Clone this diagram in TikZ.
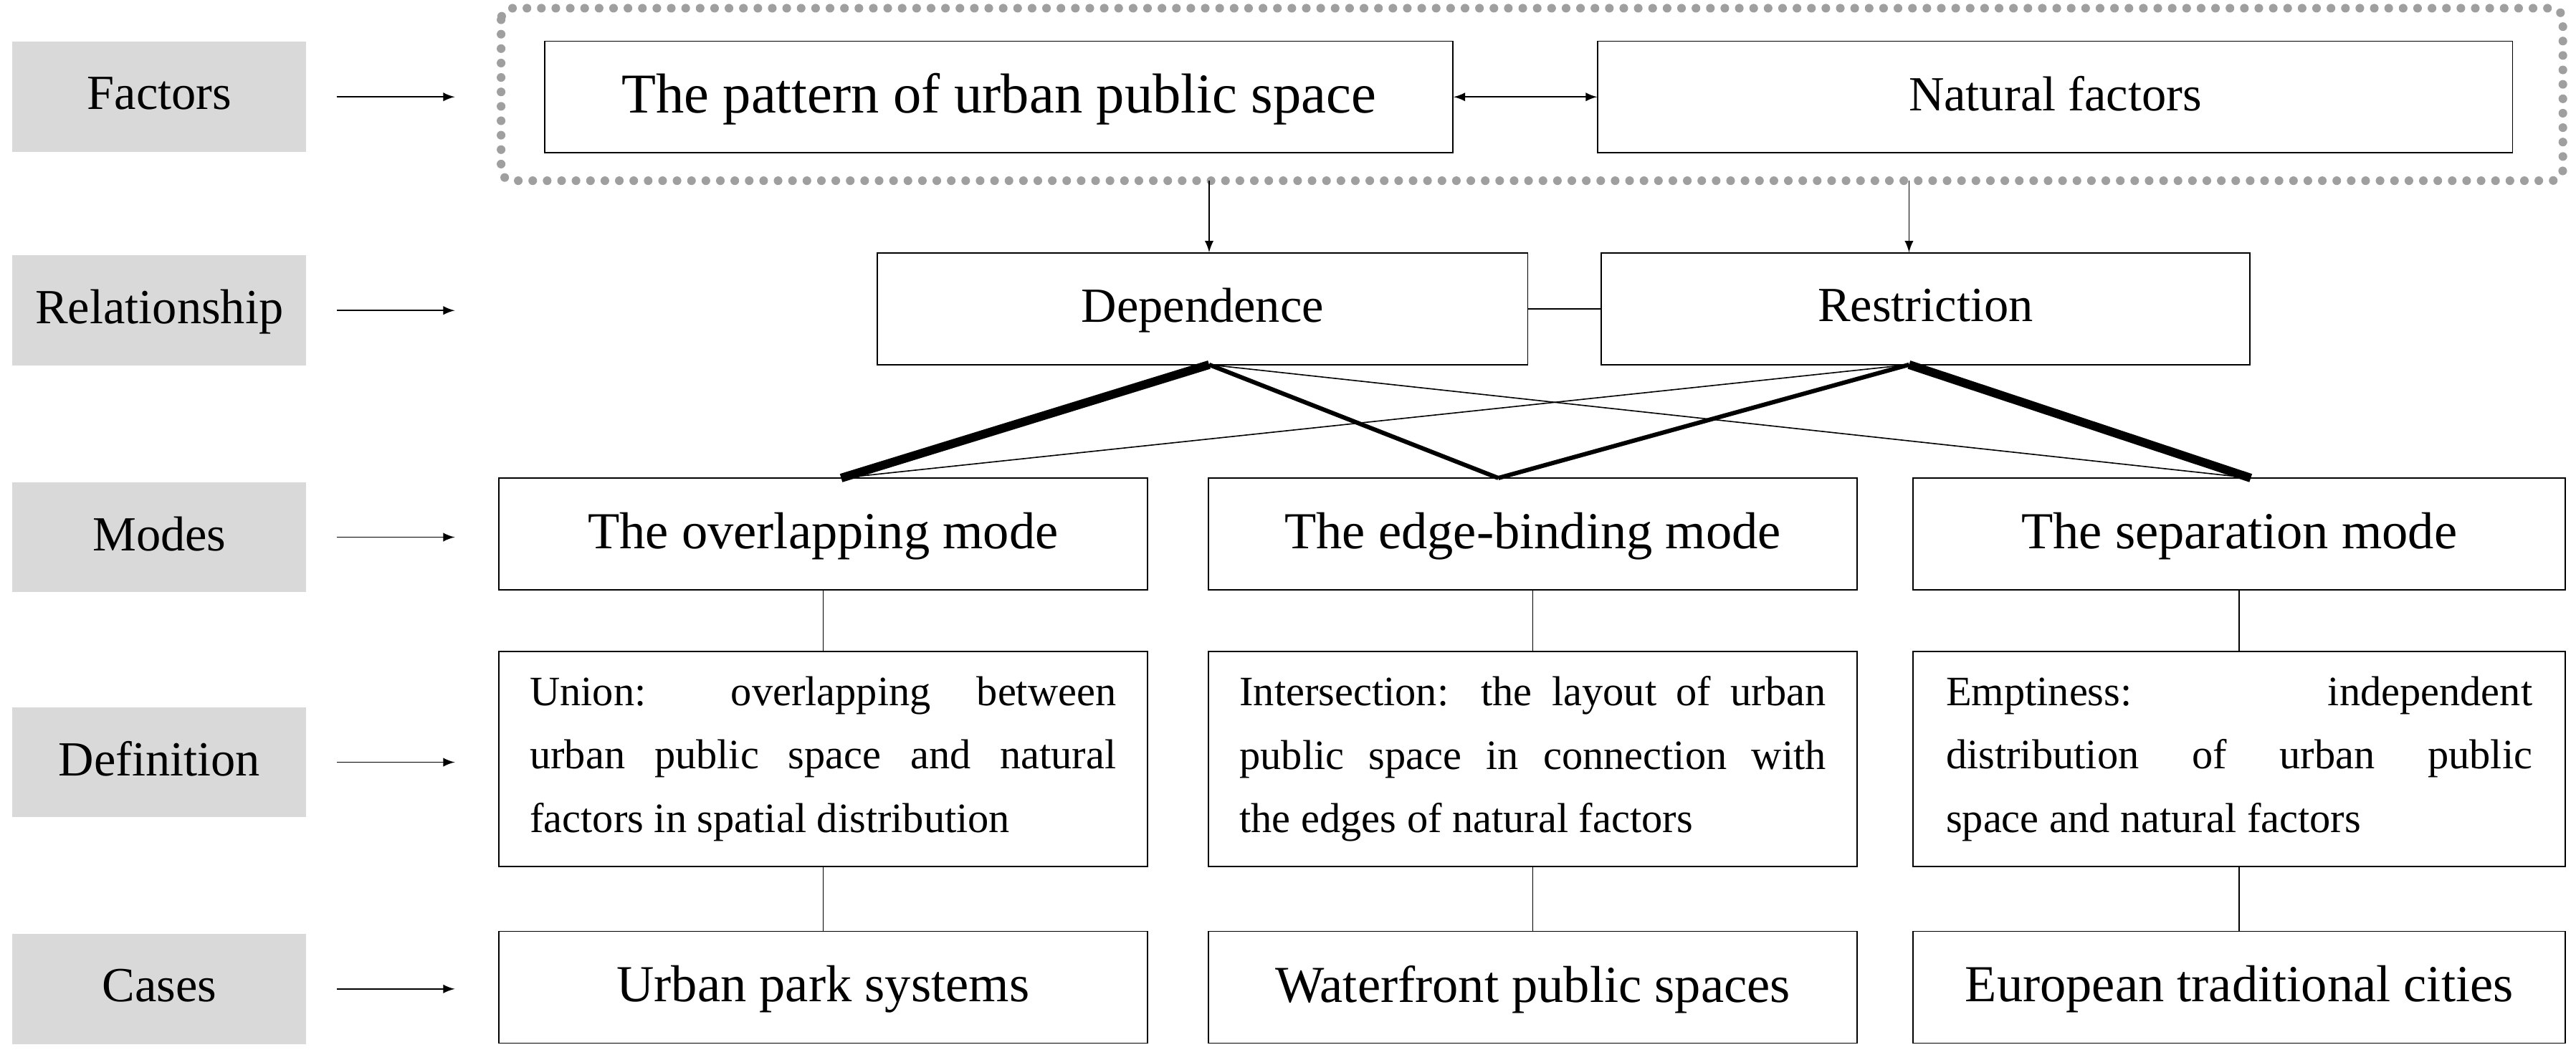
\documentclass[tikz,border=0pt]{standalone}
\usepackage{fontspec}
\setmainfont{Liberation Serif}
\usetikzlibrary{calc}

\definecolor{labgray}{RGB}{217,217,217}
\tikzset{
  lab/.style={draw=none, fill=labgray, minimum width=3.58cm, minimum height=1.34cm, text depth=0.25em, font=\fontsize{17}{20}\selectfont},
  box/.style={draw, thin, minimum height=1.36cm, text depth=0.25em, font=\fontsize{18}{22}\selectfont},
  defbox/.style={draw, thin, minimum width=7.9cm, minimum height=2.62cm, text width=7.14cm, align=justify, font=\fontsize{14.5}{22}\selectfont},
  arr/.style={-latex, thin},
}

\begin{document}
\begin{tikzpicture}[x=0.02cm, y=-0.02cm]
  \useasboundingbox (0,0) rectangle (1568,645);

  % left labels
  \node[lab] (lf) at (97,59) {Factors};
  \node[lab] (lr) at (97,189) {Relationship};
  \node[lab] (lm) at (97,327) {Modes};
  \node[lab] (ld) at (97,464) {Definition};
  \node[lab] (lc) at (97,602) {Cases};
  \foreach \n in {lf,lr,lm,ld,lc}
    \draw[arr] ($(\n.east)+(18,0)$) -- ++(72,0);

  % factors
  \draw[gray!75, line width=3pt, line cap=round, dash pattern=on 0pt off 5pt, rounded corners=4pt] (305,5) rectangle (1560,110);
  \node[box, minimum width=11.06cm, font=\fontsize{19.5}{22}\selectfont] (pat) at (608,59) {The pattern of urban public space};
  \node[box, minimum width=11.14cm, font=\fontsize{17}{20}\selectfont] (nat) at (1251,59) {Natural factors};
  \draw[latex-latex, thin] (pat) -- (nat);

  % relationship
  \node[box, minimum width=7.92cm, font=\fontsize{17}{20}\selectfont] (dep) at (732,188) {Dependence};
  \node[box, minimum width=7.9cm, font=\fontsize{17}{20}\selectfont] (res) at (1172,188) {Restriction};
  \draw[thin] (dep) -- (res);
  \coordinate (fd) at (736,110);
  \coordinate (fr) at (1162,110);
  \draw[arr] (fd) -- (fd |- dep.north);
  \draw[arr] (fr) -- (fr |- res.north);

  % modes
  \node[box, minimum width=7.9cm] (mo) at (501,325) {The overlapping mode};
  \node[box, minimum width=7.9cm] (me) at (933,325) {The edge-binding mode};
  \node[box, minimum width=7.94cm] (ms) at (1363,325) {The separation mode};

  \coordinate (dd) at (736,222);
  \coordinate (rr) at (1162,222);
  \coordinate (to) at (512,291);
  \coordinate (te) at (912,291);
  \coordinate (ts) at (1370,291);
  \draw[line width=3pt] (dd) -- (to);
  \draw[line width=1.5pt] (dd) -- (te);
  \draw[thin] (dd) -- (ts);
  \draw[line width=3pt] (rr) -- (ts);
  \draw[line width=1.5pt] (rr) -- (te);
  \draw[thin] (rr) -- (to);

  % definitions
  \node[defbox] (do) at (501,462) {Union: overlapping between\linebreak
    urban public space and natural\linebreak factors in spatial distribution};
  \node[defbox] (de) at (933,462) {Intersection: the layout of urban\linebreak
    public space in connection with\linebreak the edges of natural factors};
  \node[defbox, minimum width=7.94cm] (ds) at (1363,462) {Emptiness: independent\linebreak
    distribution of urban public\linebreak space and natural factors};

  % cases
  \node[box, minimum width=7.9cm] (co) at (501,601) {Urban park systems};
  \node[box, minimum width=7.9cm] (ce) at (933,601) {Waterfront public spaces};
  \node[box, minimum width=7.94cm] (cs) at (1363,601) {European traditional cities};

  \foreach \a/\b/\c in {mo/do/co, me/de/ce, ms/ds/cs} {
    \draw[thin] (\a) -- (\b);
    \draw[thin] (\b) -- (\c);
  }
\end{tikzpicture}
\end{document}
